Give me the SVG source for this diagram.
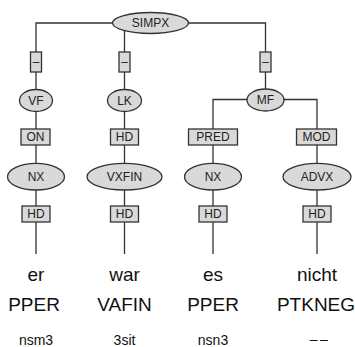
<svg xmlns="http://www.w3.org/2000/svg" width="355" height="347" viewBox="0 0 355 347">
<style>
.e{fill:#d9d9d9;stroke:#333;stroke-width:1.3}
.b{fill:#d9d9d9;stroke:#333;stroke-width:1.3}
.l{font-family:"Liberation Sans",Arial,sans-serif;font-size:12px;fill:#222;text-anchor:middle}
.w{font-family:"Liberation Sans",Arial,sans-serif;font-size:19px;fill:#111;text-anchor:middle}
.m{font-family:"Liberation Sans",Arial,sans-serif;font-size:14px;fill:#111;text-anchor:middle}
#edges path{fill:none;stroke:#333;stroke-width:1.3}
</style>
<rect width="355" height="347" fill="#fff"/>
<g id="edges">
<path d="M36 254V23H265.5V100"/>
<path d="M124.5 23V254"/>
<path d="M213 254V99.5H317V254"/>
</g>
<g id="SIMPX"><ellipse class="e" cx="150.5" cy="23" rx="38" ry="10.5"/><text class="l" x="150.5" y="27.3">SIMPX</text></g>
<g id="e1"><rect class="b" x="30.5" y="52" width="11" height="20"/><text class="l" x="36" y="66">–</text></g>
<g id="e2"><rect class="b" x="119" y="52" width="11" height="20"/><text class="l" x="124.5" y="66">–</text></g>
<g id="e3"><rect class="b" x="260" y="52" width="11" height="20"/><text class="l" x="265.5" y="66">–</text></g>
<g id="VF"><ellipse class="e" cx="36" cy="100.5" rx="16.5" ry="11"/><text class="l" x="36" y="104.8">VF</text></g>
<g id="LK"><ellipse class="e" cx="124.5" cy="100.5" rx="17" ry="11"/><text class="l" x="124.5" y="104.8">LK</text></g>
<g id="MF"><ellipse class="e" cx="265.5" cy="100" rx="18.5" ry="11"/><text class="l" x="265.5" y="104.3">MF</text></g>
<g id="ON"><rect class="b" x="21" y="129" width="29" height="16"/><text class="l" x="35.5" y="141.3">ON</text></g>
<g id="HD1"><rect class="b" x="110.5" y="129" width="28" height="16"/><text class="l" x="124.5" y="141.3">HD</text></g>
<g id="PRED"><rect class="b" x="188.5" y="129" width="49" height="16"/><text class="l" x="213" y="141.3">PRED</text></g>
<g id="MOD"><rect class="b" x="296.5" y="129" width="40" height="16"/><text class="l" x="316.5" y="141.3">MOD</text></g>
<g id="NX1"><ellipse class="e" cx="36" cy="176.7" rx="28.5" ry="13.3"/><text class="l" x="36" y="181">NX</text></g>
<g id="VXFIN"><ellipse class="e" cx="124.5" cy="176.7" rx="37.5" ry="13.3"/><text class="l" x="124.5" y="181">VXFIN</text></g>
<g id="NX2"><ellipse class="e" cx="213" cy="176.7" rx="28.5" ry="13.3"/><text class="l" x="213" y="181">NX</text></g>
<g id="ADVX"><ellipse class="e" cx="317" cy="176.7" rx="34" ry="13.3"/><text class="l" x="317" y="181">ADVX</text></g>
<g id="HD2"><rect class="b" x="22" y="206" width="28" height="16"/><text class="l" x="36" y="218.3">HD</text></g>
<g id="HD3"><rect class="b" x="110.5" y="206" width="28" height="16"/><text class="l" x="124.5" y="218.3">HD</text></g>
<g id="HD4"><rect class="b" x="199" y="206" width="28" height="16"/><text class="l" x="213" y="218.3">HD</text></g>
<g id="HD5"><rect class="b" x="303" y="206" width="28" height="16"/><text class="l" x="317" y="218.3">HD</text></g>
<g id="words">
<text class="w" x="36" y="281">er</text>
<text class="w" x="124.5" y="281">war</text>
<text class="w" x="213" y="281">es</text>
<text class="w" x="317" y="281">nicht</text>
<text class="w" x="34" y="310.5">PPER</text>
<text class="w" x="124.5" y="310.5">VAFIN</text>
<text class="w" x="213" y="310.5">PPER</text>
<text class="w" x="316" y="310.5">PTKNEG</text>
<text class="m" x="36" y="345">nsm3</text>
<text class="m" x="124.5" y="345">3sit</text>
<text class="m" x="213" y="345">nsn3</text>
<text class="m" x="320" y="344" letter-spacing="2.5">––</text>
</g>
</svg>
